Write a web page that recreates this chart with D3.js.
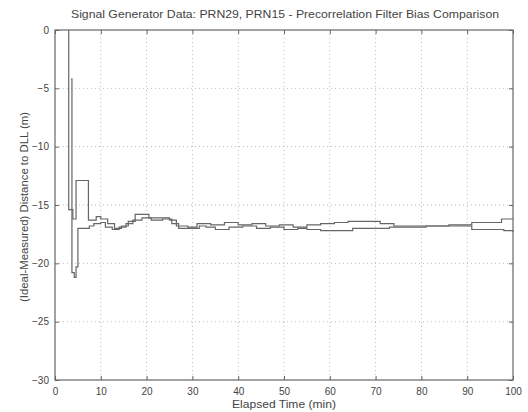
<!DOCTYPE html>
<html>
<head>
<meta charset="utf-8">
<script src="https://cdn.jsdelivr.net/npm/d3@7"></script>
<style>
  html, body { margin: 0; padding: 0; background: #fff; }
  svg text { font-family: "Liberation Sans", Arial, sans-serif; fill: #444; }
</style>
</head>
<body>
<div class="js-chart"></div>
<script>
let w = 528;
let h = 412;

// chart text
let titleText = 'Signal Generator Data: PRN29, PRN15 - Precorrelation Filter Bias Comparison';
let xLabel = 'Elapsed Time (min)';
let yLabel = '(Ideal-Measured) Distance to DLL (m)';

// tick values
let xTicks = [0, 10, 20, 30, 40, 50, 60, 70, 80, 90, 100];
let yTicks = [0, -5, -10, -15, -20, -25, -30];

// series A (PRN29)
let timeA = [3.0, 3.0, 3.9, 4.6, 4.6, 7.3, 7.3, 9, 10, 11.5, 13, 14.5, 16, 17.5, 19.5, 20.5, 23, 25, 26.5, 29, 31, 34, 37, 40, 43, 46, 49, 52, 55, 58, 61, 64, 68, 71, 74, 78, 82, 86, 89, 91, 95, 97.5, 100];
let biasA = [0, -15.4, -16.2, -16.2, -12.9, -12.9, -16.3, -16.0, -16.2, -16.6, -17.0, -16.8, -16.4, -15.8, -15.8, -16.1, -16.1, -16.3, -16.8, -16.9, -16.6, -16.7, -16.5, -16.7, -16.6, -16.8, -16.7, -16.9, -16.7, -16.6, -16.5, -16.4, -16.4, -16.6, -16.8, -16.8, -16.8, -16.7, -16.7, -16.5, -16.5, -16.2, -16.2];

// series B (PRN15)
let timeB = [3.5, 3.7, 3.7, 4.2, 4.6, 5.0, 5.0, 7.5, 8.5, 10, 11, 12.5, 14, 15.5, 17, 19, 21, 23.5, 25.5, 27, 29.5, 31.5, 33, 35, 38, 41, 44, 47, 50, 53, 55, 58, 62, 65, 69, 73, 77, 81, 85, 89, 91, 95, 98, 100];
let biasB = [-4.2, -4.2, -20.8, -21.2, -20.3, -20.3, -17.0, -16.8, -16.6, -16.5, -16.9, -17.1, -16.9, -16.6, -16.3, -16.1, -16.3, -16.2, -16.6, -17.0, -17.0, -16.8, -16.9, -17.1, -16.9, -16.8, -17.0, -16.9, -17.1, -17.0, -17.1, -17.2, -17.2, -17.0, -17.0, -16.9, -16.9, -16.8, -16.8, -16.8, -17.1, -17.1, -17.2, -17.3];

let margin = {top: 30, right: 15, bottom: 32, left: 55};
let plotW = w - margin.left - margin.right;
let plotH = h - margin.top - margin.bottom;

let svg = d3.select('.js-chart').append('svg').attr('width', w).attr('height', h);
let g = svg.append('g').attr('transform', `translate(${margin.left},${margin.top})`);

let x = d3.scaleLinear().domain([0, 100]).range([0, plotW]);
let y = d3.scaleLinear().domain([-30, 0]).range([plotH, 0]);

// dotted grid
g.append('g').selectAll('line').data(xTicks.slice(1, -1)).join('line')
  .attr('x1', d => x(d)).attr('x2', d => x(d)).attr('y1', 0).attr('y2', plotH)
  .style('stroke', '#aaa').style('stroke-width', 0.8).style('stroke-dasharray', '1,3');
g.append('g').selectAll('line').data(yTicks.slice(1, -1)).join('line')
  .attr('y1', d => y(d)).attr('y2', d => y(d)).attr('x1', 0).attr('x2', plotW)
  .style('stroke', '#aaa').style('stroke-width', 0.8).style('stroke-dasharray', '1,3');

// axes with inward ticks
let styleAxis = (sel) => {
  sel.select('.domain').remove();
  sel.selectAll('.tick line').style('stroke', '#666');
  sel.selectAll('.tick text').style('font-size', '10px').style('fill', '#444')
    .style('font-family', '"Liberation Sans", Arial, sans-serif');
};
g.append('g').attr('transform', `translate(0,${plotH})`)
  .call(d3.axisBottom(x).tickValues(xTicks).tickSize(-4).tickPadding(8)).call(styleAxis);
g.append('g')
  .call(d3.axisTop(x).tickValues(xTicks).tickSize(-4).tickFormat('')).call(styleAxis);
g.append('g')
  .call(d3.axisLeft(y).tickValues(yTicks).tickSize(-4).tickPadding(6)).call(styleAxis);
g.append('g').attr('transform', `translate(${plotW},0)`)
  .call(d3.axisRight(y).tickValues(yTicks).tickSize(-4).tickFormat('')).call(styleAxis);

// frame
g.append('rect').attr('x', 0).attr('y', 0).attr('width', plotW).attr('height', plotH)
  .style('fill', 'none').style('stroke', '#666').style('stroke-width', 1.2);

// series
let line = d3.line().x(d => x(d[0])).y(d => y(d[1])).curve(d3.curveStepAfter);
let seriesList = [d3.zip(timeA, biasA), d3.zip(timeB, biasB)];
g.selectAll('.series').data(seriesList).join('path')
  .attr('class', 'series')
  .attr('d', line)
  .style('fill', 'none').style('stroke', '#666').style('stroke-width', 1.2);

// labels
svg.append('text').attr('x', 285).attr('y', 18)
  .attr('text-anchor', 'middle').style('font-size', '10.5px')
  .attr('textLength', 428).attr('lengthAdjust', 'spacingAndGlyphs').text(titleText);
svg.append('text').attr('x', 284).attr('y', h - 4)
  .attr('text-anchor', 'middle').style('font-size', '10.5px')
  .attr('textLength', 104).attr('lengthAdjust', 'spacingAndGlyphs').text(xLabel);
svg.append('text').attr('transform', `translate(28,${margin.top + plotH / 2 + 2}) rotate(-90)`)
  .attr('text-anchor', 'middle').style('font-size', '10.5px')
  .attr('textLength', 190).attr('lengthAdjust', 'spacingAndGlyphs').text(yLabel);
</script>
</body>
</html>
